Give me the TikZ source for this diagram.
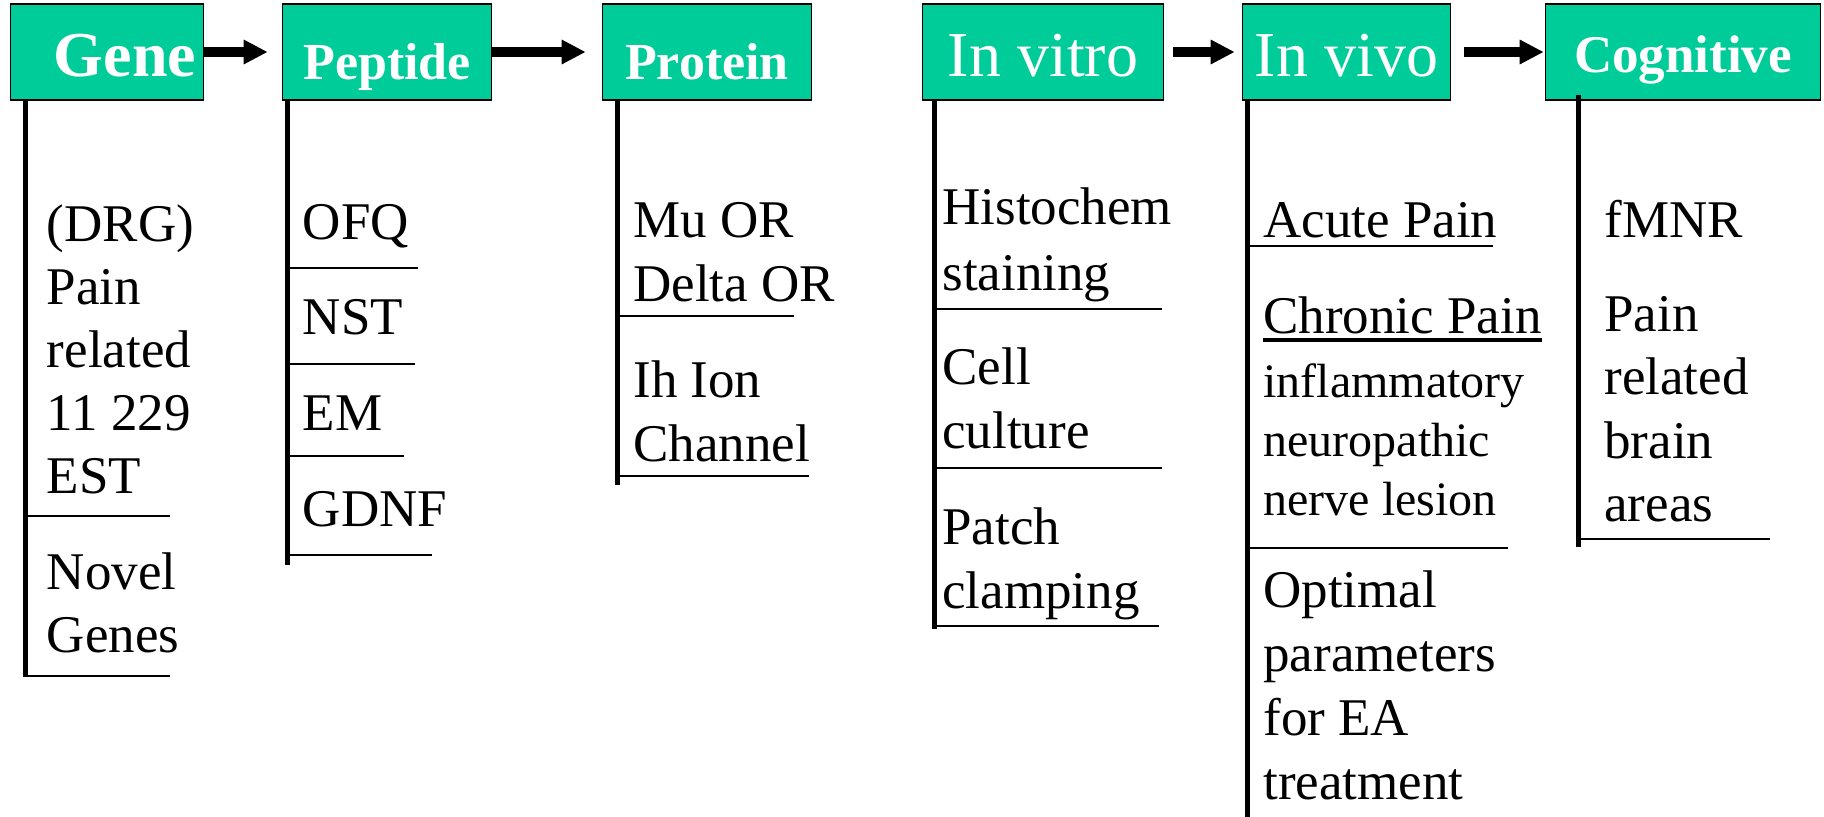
\documentclass[tikz,border=0pt]{standalone}
\usepackage{fontspec}
\setmainfont{Liberation Serif}
\usepackage{tikz}
\usetikzlibrary{arrows.meta}
\definecolor{stagegreen}{RGB}{0,204,153}
\tikzstyle{stage} = [rectangle, draw=black, line width=0.8pt, fill=stagegreen, text=white, minimum height=48pt, inner sep=0pt, text depth=0pt]
\tikzstyle{arrow} = [line width=4.75pt,-{Triangle[length=12pt,width=11.5pt]}]
% entries sit on the baseline of their last line
\tikzstyle{entry} = [anchor=base west, align=left, inner sep=0pt, font=\fontsize{26.5}{32}\selectfont]
\tikzstyle{stem} = [line width=2.4pt]
\tikzstyle{sep} = [line width=1pt]

\begin{document}
\begin{tikzpicture}[x=0.5pt,y=0.5pt]
	\useasboundingbox (0,0) rectangle (1824,-816);

	% stages
	\node (gene) [stage, minimum width=96.5pt, text height=24pt, font=\bfseries\fontsize{32}{38}\selectfont] at (107,-52) {\hspace*{18pt}Gene};
	\node (peptide) [stage, node distance=140pt, right of=gene, minimum width=104.5pt, text height=27pt, font=\bfseries\fontsize{26}{31}\selectfont] {Peptide};
	\node (protein) [stage, node distance=160pt, right of=peptide, minimum width=104.5pt, text height=27pt, font=\bfseries\fontsize{26}{31}\selectfont] {Protein};
	\node (invitro) [stage, node distance=168pt, right of=protein, minimum width=120.5pt, text height=24pt, font=\fontsize{32}{38}\selectfont] {In vitro};
	\node (invivo) [stage, node distance=151.75pt, right of=invitro, minimum width=104pt, text height=24pt, font=\fontsize{32}{38}\selectfont] {In vivo};
	\node (cognitive) [stage, node distance=168.25pt, right of=invivo, minimum width=137.5pt, text height=20.5pt, font=\bfseries\fontsize{26.5}{31}\selectfont] {Cognitive};

	\draw [arrow, shorten >=7pt] (gene) -- (peptide);
	\draw [arrow, shorten >=8pt] (peptide) -- (protein);
	\draw [arrow, shorten <=4.5pt, shorten >=3.5pt] (invitro) -- (invivo);
	\draw [arrow, shorten <=6.5pt, shorten >=0.5pt] (invivo) -- (cognitive);

	% Gene
	\draw [stem] ([xshift=7.75pt]gene.south west) -- ++(0,-576);
	\node (drg) [entry, font=\fontsize{26.5}{31.5}\selectfont] at (46.5,-493) {(DRG)\\Pain\\related\\11 229\\EST};
	\draw [sep] (26,-515.7) -- (170,-515.7);
	\node (novel) [entry, font=\fontsize{26.5}{31.5}\selectfont] at (46.5,-652) {Novel\\Genes};
	\draw [sep] (26,-675.7) -- (170,-675.7);

	% Peptide
	\draw [stem] ([xshift=2.75pt]peptide.south west) -- ++(0,-464);
	\node (ofq) [entry] at (302.5,-239) {OFQ};
	\draw [sep] (288,-267.5) -- (418,-267.5);
	\node (nst) [entry] at (302.5,-334) {NST};
	\draw [sep] (288,-364) -- (415,-364);
	\node (em) [entry] at (302.5,-430) {EM};
	\draw [sep] (288,-455.7) -- (404,-455.7);
	\node (gdnf) [entry] at (302.5,-526) {GDNF};
	\draw [sep] (288,-555) -- (432,-555);

	% Protein
	\draw [stem] ([xshift=7.75pt]protein.south west) -- ++(0,-384);
	\node (opioid) [entry] at (633,-301) {Mu OR\\Delta OR};
	\draw [sep] (618,-315.7) -- (794,-315.7);
	\node (channel) [entry] at (633,-461) {Ih Ion\\Channel};
	\draw [sep] (618,-475.7) -- (808.6,-475.7);

	% In vitro
	\draw [stem] ([xshift=6.25pt]invitro.south west) -- ++(0,-528);
	\node (histo) [entry, font=\fontsize{26.5}{33}\selectfont] at (942,-290) {Histochem\\staining};
	\draw [sep] (935,-308.5) -- (1162,-308.5);
	\node (culture) [entry] at (942,-448.5) {Cell\\culture};
	\draw [sep] (935,-468) -- (1162,-468);
	\node (patch) [entry] at (942,-608) {Patch\\clamping};
	\draw [sep] (935,-625.6) -- (1159,-625.6);

	% In vivo
	\draw [stem] ([xshift=2.75pt]invivo.south west) -- ++(0,-716);
	\node (acute) [entry] at (1263,-237) {Acute Pain};
	\draw [sep] (1248,-246) -- (1492.6,-246);
	\node (chronic) [entry] at (1263,-333) {Chronic Pain};
	\draw [line width=1.6pt] ([yshift=-3.5pt]chronic.base west) -- ([yshift=-3.5pt]chronic.base east);
	\node (kinds) [entry, font=\fontsize{24}{29.5}\selectfont] at (1263,-515) {inflammatory\\neuropathic\\nerve lesion};
	\draw [sep] (1248,-547.8) -- (1508,-547.8);
	\node (optimal) [entry] at (1263,-799) {Optimal\\parameters\\for EA\\treatment};

	% Cognitive
	\draw [stem] ([xshift=16.75pt,yshift=3pt]cognitive.south west) -- ++(0,-452);
	\node (fmnr) [entry] at (1604,-237) {fMNR};
	\node (areas) [entry, font=\fontsize{26.5}{31.75}\selectfont] at (1604,-521.5) {Pain\\related\\brain\\areas};
	\draw [sep] (1579,-539) -- (1770,-539);
\end{tikzpicture}
\end{document}
